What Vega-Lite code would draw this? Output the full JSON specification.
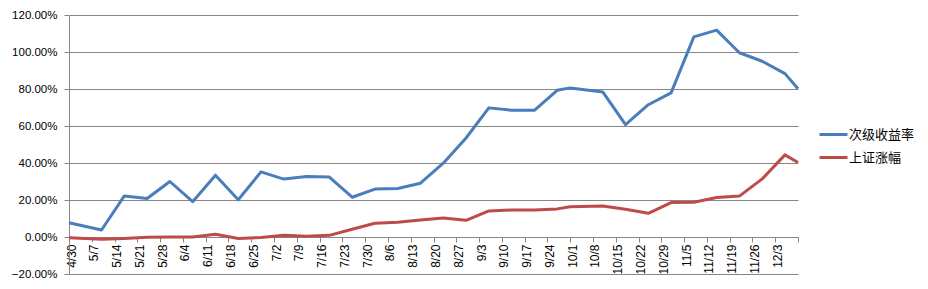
{
  "$schema": "https://vega.github.io/schema/vega-lite/v6.json",
  "width": 729,
  "height": 259,
  "autosize": {"type": "none"},
  "padding": {"left": 69, "top": 15, "right": 130, "bottom": 15},
  "background": "white",
  "config": {"view": {"stroke": null}, "font": "Liberation Sans"},
  "data": {"values": [
    {"d": "2012/04/30", "s": "次级收益率", "v": 0.077},
    {"d": "2012/05/10", "s": "次级收益率", "v": 0.038},
    {"d": "2012/05/17", "s": "次级收益率", "v": 0.222},
    {"d": "2012/05/24", "s": "次级收益率", "v": 0.208},
    {"d": "2012/05/31", "s": "次级收益率", "v": 0.300},
    {"d": "2012/06/07", "s": "次级收益率", "v": 0.191},
    {"d": "2012/06/14", "s": "次级收益率", "v": 0.334},
    {"d": "2012/06/21", "s": "次级收益率", "v": 0.201},
    {"d": "2012/06/28", "s": "次级收益率", "v": 0.352},
    {"d": "2012/07/05", "s": "次级收益率", "v": 0.313},
    {"d": "2012/07/12", "s": "次级收益率", "v": 0.327},
    {"d": "2012/07/19", "s": "次级收益率", "v": 0.324},
    {"d": "2012/07/26", "s": "次级收益率", "v": 0.215},
    {"d": "2012/08/02", "s": "次级收益率", "v": 0.259},
    {"d": "2012/08/09", "s": "次级收益率", "v": 0.262},
    {"d": "2012/08/16", "s": "次级收益率", "v": 0.291},
    {"d": "2012/08/23", "s": "次级收益率", "v": 0.399},
    {"d": "2012/08/30", "s": "次级收益率", "v": 0.535},
    {"d": "2012/09/06", "s": "次级收益率", "v": 0.698},
    {"d": "2012/09/13", "s": "次级收益率", "v": 0.685},
    {"d": "2012/09/20", "s": "次级收益率", "v": 0.685},
    {"d": "2012/09/27", "s": "次级收益率", "v": 0.793},
    {"d": "2012/10/01", "s": "次级收益率", "v": 0.806},
    {"d": "2012/10/11", "s": "次级收益率", "v": 0.784},
    {"d": "2012/10/18", "s": "次级收益率", "v": 0.607},
    {"d": "2012/10/25", "s": "次级收益率", "v": 0.715},
    {"d": "2012/11/01", "s": "次级收益率", "v": 0.779},
    {"d": "2012/11/08", "s": "次级收益率", "v": 1.082},
    {"d": "2012/11/15", "s": "次级收益率", "v": 1.118},
    {"d": "2012/11/22", "s": "次级收益率", "v": 0.996},
    {"d": "2012/11/29", "s": "次级收益率", "v": 0.950},
    {"d": "2012/12/06", "s": "次级收益率", "v": 0.883},
    {"d": "2012/12/10", "s": "次级收益率", "v": 0.801},
    {"d": "2012/04/30", "s": "上证涨幅", "v": -0.004},
    {"d": "2012/05/10", "s": "上证涨幅", "v": -0.012},
    {"d": "2012/05/17", "s": "上证涨幅", "v": -0.008},
    {"d": "2012/05/24", "s": "上证涨幅", "v": -0.002},
    {"d": "2012/05/31", "s": "上证涨幅", "v": 0.000},
    {"d": "2012/06/07", "s": "上证涨幅", "v": 0.000},
    {"d": "2012/06/14", "s": "上证涨幅", "v": 0.015},
    {"d": "2012/06/21", "s": "上证涨幅", "v": -0.008},
    {"d": "2012/06/28", "s": "上证涨幅", "v": -0.003},
    {"d": "2012/07/05", "s": "上证涨幅", "v": 0.009},
    {"d": "2012/07/12", "s": "上证涨幅", "v": 0.004},
    {"d": "2012/07/19", "s": "上证涨幅", "v": 0.009},
    {"d": "2012/07/26", "s": "上证涨幅", "v": 0.042},
    {"d": "2012/08/02", "s": "上证涨幅", "v": 0.074},
    {"d": "2012/08/09", "s": "上证涨幅", "v": 0.080},
    {"d": "2012/08/16", "s": "上证涨幅", "v": 0.092},
    {"d": "2012/08/23", "s": "上证涨幅", "v": 0.103},
    {"d": "2012/08/30", "s": "上证涨幅", "v": 0.090},
    {"d": "2012/09/06", "s": "上证涨幅", "v": 0.141},
    {"d": "2012/09/13", "s": "上证涨幅", "v": 0.146},
    {"d": "2012/09/20", "s": "上证涨幅", "v": 0.146},
    {"d": "2012/09/27", "s": "上证涨幅", "v": 0.152},
    {"d": "2012/10/01", "s": "上证涨幅", "v": 0.163},
    {"d": "2012/10/11", "s": "上证涨幅", "v": 0.168},
    {"d": "2012/10/18", "s": "上证涨幅", "v": 0.150},
    {"d": "2012/10/25", "s": "上证涨幅", "v": 0.128},
    {"d": "2012/11/01", "s": "上证涨幅", "v": 0.186},
    {"d": "2012/11/08", "s": "上证涨幅", "v": 0.188},
    {"d": "2012/11/15", "s": "上证涨幅", "v": 0.213},
    {"d": "2012/11/22", "s": "上证涨幅", "v": 0.221},
    {"d": "2012/11/29", "s": "上证涨幅", "v": 0.314},
    {"d": "2012/12/06", "s": "上证涨幅", "v": 0.444},
    {"d": "2012/12/10", "s": "上证涨幅", "v": 0.403}
  ]},
  "mark": {"type": "line", "strokeWidth": 3, "strokeJoin": "round"},
  "encoding": {
    "x": {
      "field": "d",
      "type": "temporal",
      "scale": {"domain": [{"year": 2012, "month": 4, "date": 30}, {"year": 2012, "month": 12, "date": 10}]},
      "axis": {
        "title": null,
        "values": [
          {"year": 2012, "month": 4, "date": 30},
          {"year": 2012, "month": 5, "date": 7},
          {"year": 2012, "month": 5, "date": 14},
          {"year": 2012, "month": 5, "date": 21},
          {"year": 2012, "month": 5, "date": 28},
          {"year": 2012, "month": 6, "date": 4},
          {"year": 2012, "month": 6, "date": 11},
          {"year": 2012, "month": 6, "date": 18},
          {"year": 2012, "month": 6, "date": 25},
          {"year": 2012, "month": 7, "date": 2},
          {"year": 2012, "month": 7, "date": 9},
          {"year": 2012, "month": 7, "date": 16},
          {"year": 2012, "month": 7, "date": 23},
          {"year": 2012, "month": 7, "date": 30},
          {"year": 2012, "month": 8, "date": 6},
          {"year": 2012, "month": 8, "date": 13},
          {"year": 2012, "month": 8, "date": 20},
          {"year": 2012, "month": 8, "date": 27},
          {"year": 2012, "month": 9, "date": 3},
          {"year": 2012, "month": 9, "date": 10},
          {"year": 2012, "month": 9, "date": 17},
          {"year": 2012, "month": 9, "date": 24},
          {"year": 2012, "month": 10, "date": 1},
          {"year": 2012, "month": 10, "date": 8},
          {"year": 2012, "month": 10, "date": 15},
          {"year": 2012, "month": 10, "date": 22},
          {"year": 2012, "month": 10, "date": 29},
          {"year": 2012, "month": 11, "date": 5},
          {"year": 2012, "month": 11, "date": 12},
          {"year": 2012, "month": 11, "date": 19},
          {"year": 2012, "month": 11, "date": 26},
          {"year": 2012, "month": 12, "date": 3},
          {"year": 2012, "month": 12, "date": 10}
        ],
        "format": "%-m/%-d",
        "labelExpr": "datum.index == 1 ? '' : datum.label",
        "labelAngle": 270,
        "labelFontSize": 12,
        "labelColor": "#000000",
        "labelOverlap": false,
        "labelFlush": false,
        "labelPadding": 2,
        "labelOffset": 2,
        "offset": -37,
        "grid": false,
        "domainColor": "#868686",
        "tickColor": "#868686",
        "tickSize": 5
      }
    },
    "y": {
      "field": "v",
      "type": "quantitative",
      "scale": {"domain": [-0.2, 1.2], "nice": false, "zero": false},
      "axis": {
        "title": null,
        "values": [-0.2, 0, 0.2, 0.4, 0.6, 0.8, 1.0, 1.2],
        "format": ".2%",
        "labelFontSize": 11.5,
        "labelColor": "#000000",
        "labelPadding": 7,
        "tickSize": 5,
        "tickColor": "#868686",
        "domainColor": "#868686",
        "gridColor": "#868686",
        "gridOpacity": 1
      }
    },
    "color": {
      "field": "s",
      "type": "nominal",
      "scale": {"domain": ["次级收益率", "上证涨幅"], "range": ["#4A7EBB", "#BE4B48"]},
      "legend": {
        "title": null,
        "orient": "none",
        "legendX": 749,
        "legendY": 104,
        "symbolType": "stroke",
        "symbolSize": 784,
        "symbolStrokeWidth": 3,
        "labelFont": "Noto Sans CJK SC",
        "labelFontSize": 13,
        "labelColor": "#000000",
        "labelOffset": 0,
        "rowPadding": -4
      }
    }
  }
}
